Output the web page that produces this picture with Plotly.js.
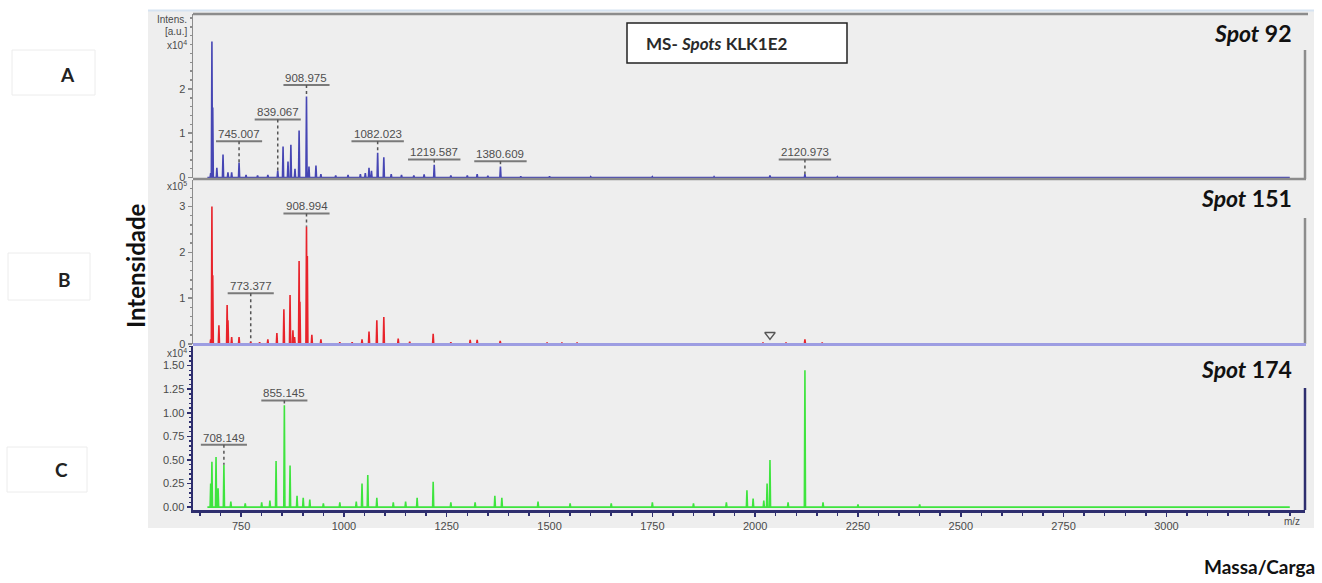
<!DOCTYPE html>
<html>
<head>
<meta charset="utf-8">
<script src="https://cdn.plot.ly/plotly-3.0.1.min.js"></script>
<style>
  html, body { margin: 0; padding: 0; background: #ffffff; }
  #chart { width: 1322px; height: 583px; }
</style>
</head>
<body>
<div id="chart"></div>
<script>
// ---- Spot 92 (intensity x10^4 a.u.) ----
const spotA_mz  = [676, 679, 681, 691, 706, 718, 727, 745.007, 762, 790, 815, 839.067, 852, 864, 871, 881, 891, 908.975, 915, 932, 944, 980, 1010, 1040, 1052, 1061, 1067, 1082.023, 1097, 1115, 1140, 1170, 1195, 1219.587, 1260, 1300, 1324, 1350, 1380.609, 1430, 1500, 1600, 1750, 1900, 2036, 2120.973, 2200];
const spotA_int = [0.10, 3.07, 1.58, 0.22, 0.52, 0.12, 0.12, 0.34, 0.06, 0.05, 0.06, 0.16, 0.70, 0.36, 0.74, 0.20, 1.06, 1.83, 0.25, 0.27, 0.08, 0.05, 0.06, 0.08, 0.10, 0.22, 0.15, 0.56, 0.46, 0.08, 0.06, 0.05, 0.07, 0.29, 0.05, 0.05, 0.08, 0.04, 0.25, 0.03, 0.03, 0.02, 0.02, 0.02, 0.05, 0.08, 0.02];
const spotA_labels  = ['745.007', '839.067', '908.975', '1082.023', '1219.587', '1380.609', '2120.973'];
const spotA_labelAt = [0.82, 1.31, 2.09, 0.82, 0.41, 0.37, 0.41];

// ---- Spot 151 (intensity x10^5 a.u.) ----
const spotB_mz  = [676, 679, 681, 696, 716, 718, 727, 745, 773.377, 795, 815, 837, 854, 869, 876, 880, 891, 893, 908.994, 911, 922, 944, 990, 1020, 1044, 1061, 1080, 1097, 1132, 1160, 1217, 1260, 1307, 1324, 1380, 1494, 1530, 1567, 2019, 2075, 2121, 2163];
const spotB_int = [0.10, 3.00, 1.50, 0.41, 0.85, 0.52, 0.15, 0.15, 0.05, 0.04, 0.10, 0.24, 0.76, 1.07, 0.30, 0.15, 1.81, 0.92, 2.56, 1.92, 0.20, 0.10, 0.04, 0.04, 0.10, 0.27, 0.52, 0.59, 0.12, 0.05, 0.22, 0.04, 0.09, 0.09, 0.07, 0.03, 0.03, 0.03, 0.03, 0.03, 0.10, 0.03];
const spotB_labels  = ['773.377', '908.994'];
const spotB_labelAt = [1.11, 2.85];
const spotB_flagMz  = [2036];
const spotB_flagInt = [0.20];

// ---- Spot 174 (intensity x10^4 a.u.) ----
const spotC_mz  = [676, 679, 689, 694, 708.149, 725, 760, 800, 820, 835, 855.145, 869, 886, 901, 917, 950, 990, 1030, 1044, 1058, 1080, 1120, 1150, 1178, 1217, 1260, 1319, 1367, 1384, 1472, 1550, 1650, 1750, 1850, 1930, 1980, 1995, 2021, 2029, 2036, 2080, 2121, 2165, 2250, 2400];
const spotC_int = [0.25, 0.48, 0.53, 0.20, 0.45, 0.06, 0.04, 0.05, 0.07, 0.49, 1.08, 0.44, 0.12, 0.10, 0.08, 0.04, 0.05, 0.06, 0.25, 0.34, 0.10, 0.05, 0.06, 0.10, 0.27, 0.05, 0.05, 0.12, 0.10, 0.06, 0.04, 0.04, 0.05, 0.04, 0.05, 0.18, 0.09, 0.07, 0.25, 0.50, 0.05, 1.45, 0.05, 0.03, 0.03];
const spotC_labels  = ['708.149', '855.145'];
const spotC_labelAt = [0.66, 1.13];

// axis ticks
const xTicks = [750, 1000, 1250, 1500, 1750, 2000, 2250, 2500, 2750, 3000];
const yTicksA = [0, 1, 2];
const yTicksB = [0, 1, 2, 3];
const yTicksC = [0, 0.25, 0.5, 0.75, 1.0, 1.25, 1.5];
const yTickTextC = ['0.00', '0.25', '0.50', '0.75', '1.00', '1.25', '1.50'];

// ---- page geometry (pixels) ----
const W = 1322, H = 583;
const L = 193, R = 17, T = 14, B = 73;
const PW = W - L - R, PH = H - T - B;
const PX = x => (x - L) / PW;
const PY = y => (T + PH - y) / PH;

const SPEC_START = 668, SPEC_END = 3300, HALF = 1.4;
const FONT = 'Liberation Sans, Arial, sans-serif';
const HEAD = 'Lato, Open Sans, sans-serif';

function stickSpectrum(mz, inten) {
  const order = mz.map((m, i) => i).sort((a, b) => mz[a] - mz[b]);
  const xs = [SPEC_START], ys = [0];
  order.forEach(i => {
    xs.push(mz[i] - HALF, mz[i], mz[i] + HALF);
    ys.push(0, inten[i], 0);
  });
  xs.push(SPEC_END); ys.push(0);
  return { xs, ys };
}

const panels = [
  { mz: spotA_mz, it: spotA_int, labels: spotA_labels, at: spotA_labelAt, yref: 'y',  color: '#4646b4' },
  { mz: spotB_mz, it: spotB_int, labels: spotB_labels, at: spotB_labelAt, yref: 'y2', color: '#e8232b' },
  { mz: spotC_mz, it: spotC_int, labels: spotC_labels, at: spotC_labelAt, yref: 'y3', color: '#3ee43e' }
];

const traces = panels.map(p => {
  const s = stickSpectrum(p.mz, p.it);
  return {
    x: s.xs, y: s.ys, type: 'scatter', mode: 'lines',
    xaxis: 'x', yaxis: p.yref,
    line: { color: p.color, width: 1.6, simplify: false },
    hoverinfo: 'skip', showlegend: false
  };
});
traces.push({
  x: spotB_flagMz, y: spotB_flagInt, type: 'scatter', mode: 'markers',
  xaxis: 'x', yaxis: 'y2',
  marker: { symbol: 'triangle-down-open', size: 9, color: '#555555', line: { width: 1.5 } },
  hoverinfo: 'skip', showlegend: false
});

const shapes = [];
const annotations = [];

// grey frame behind the plot
shapes.push({ type: 'rect', xref: 'paper', yref: 'paper', layer: 'below',
  x0: PX(148), x1: PX(1314), y0: PY(528), y1: PY(10),
  fillcolor: '#eeeeee', line: { width: 0 } });
shapes.push({ type: 'line', xref: 'paper', yref: 'paper', layer: 'below',
  x0: PX(148), x1: PX(1314), y0: PY(10.5), y1: PY(10.5),
  line: { color: '#d6e3f1', width: 2 } });

// faint boxes round the panel letters
[[12, 95, 50, 95], [8, 90, 253, 300], [7, 87, 447, 492]].forEach(b => {
  shapes.push({ type: 'rect', xref: 'paper', yref: 'paper',
    x0: PX(b[0]), x1: PX(b[1]), y0: PY(b[3]), y1: PY(b[2]),
    line: { color: '#ececec', width: 1 }, fillcolor: 'rgba(0,0,0,0)' });
});

// panel borders
const gray = '#8c8c8c';
const hl = (x0, x1, y, color, w) => shapes.push({ type: 'line', xref: 'paper', yref: 'paper',
  x0: PX(x0), x1: PX(x1), y0: PY(y), y1: PY(y), line: { color, width: w } });
const vl = (x, y0, y1, color, w) => shapes.push({ type: 'line', xref: 'paper', yref: 'paper',
  x0: PX(x), x1: PX(x), y0: PY(y0), y1: PY(y1), line: { color, width: w } });
hl(193, 1308, 14, gray, 2.5);
hl(193, 1306, 179, gray, 2.5);
vl(1305, 50, 179, gray, 2.5);
vl(1305, 218, 344, gray, 2.5);
hl(193, 1306, 344.5, '#9d9de2', 3);
vl(1305, 388, 510, '#2e2e6e', 2.5);

// title box
shapes.push({ type: 'rect', xref: 'paper', yref: 'paper',
  x0: PX(627), x1: PX(847), y0: PY(63), y1: PY(23),
  fillcolor: '#ffffff', line: { color: '#222222', width: 1.5 } });
annotations.push({ xref: 'paper', yref: 'paper', x: PX(644), y: PY(43),
  xanchor: 'left', yanchor: 'middle', showarrow: false,
  text: '<b>MS- <i>Spots</i> KLK1E2</b>', font: { family: HEAD, size: 17, color: '#2a2a2a' } });

// peak labels: value text, underline and dotted leader down to the peak
panels.forEach(p => {
  p.labels.forEach((lab, k) => {
    const m = parseFloat(lab);
    const h = p.it[p.mz.indexOf(m)];
    const top = p.at[k];
    const w = lab.length * 6.3 + 2;
    annotations.push({ xref: 'x', yref: p.yref, x: m, y: top, xanchor: 'center', yanchor: 'bottom',
      showarrow: false, text: lab, yshift: -1,
      font: { family: FONT, size: 11.5, color: '#4e4e4e' } });
    shapes.push({ type: 'line', xref: 'x', yref: p.yref, xsizemode: 'pixel', xanchor: m,
      x0: -w / 2, x1: w / 2, y0: top, y1: top, line: { color: '#7a7a7a', width: 2 } });
    shapes.push({ type: 'line', xref: 'x', yref: p.yref, x0: m, x1: m, y0: top, y1: h,
      line: { color: '#555555', width: 1.5, dash: 'dot' } });
  });
});

// intensity headers on the y axes
const small = { family: FONT, size: 10, color: '#4a4a4a' };
[['Intens.', 19], ['[a.u.]', 32], ['x10<sup>4</sup>', 45], ['x10<sup>5</sup>', 186], ['x10<sup>4</sup>', 353]].forEach(t => {
  annotations.push({ xref: 'paper', yref: 'paper', x: PX(189), y: PY(t[1]), xanchor: 'right', yanchor: 'middle',
    showarrow: false, text: t[0], font: small });
});
annotations.push({ xref: 'paper', yref: 'paper', x: PX(1292), y: PY(521), xanchor: 'center', yanchor: 'middle',
  showarrow: false, text: 'm/z', font: small });

// spot names
[['<b><i>Spot</i> 92</b>', 33], ['<b><i>Spot</i> 151</b>', 198], ['<b><i>Spot</i> 174</b>', 369]].forEach(t => {
  annotations.push({ xref: 'paper', yref: 'paper', x: PX(1294), y: PY(t[1]), xanchor: 'right', yanchor: 'middle',
    showarrow: false, text: t[0], font: { family: HEAD, size: 23, color: '#111111' } });
});

// panel letters and axis titles
[['A', 67, 74], ['B', 64, 279], ['C', 61, 469]].forEach(t => {
  annotations.push({ xref: 'paper', yref: 'paper', x: PX(t[1]), y: PY(t[2]), xanchor: 'center', yanchor: 'middle',
    showarrow: false, text: '<b>' + t[0] + '</b>', font: { family: HEAD, size: 19, color: '#222222' } });
});
annotations.push({ xref: 'paper', yref: 'paper', x: PX(135), y: PY(266), xanchor: 'center', yanchor: 'middle',
  showarrow: false, textangle: -90, text: '<b>Intensidade</b>', font: { family: HEAD, size: 24, color: '#111111' } });
annotations.push({ xref: 'paper', yref: 'paper', x: PX(1259), y: PY(566), xanchor: 'center', yanchor: 'middle',
  showarrow: false, text: '<b>Massa/Carga</b>', font: { family: HEAD, size: 19, color: '#111111' } });

const yBase = {
  anchor: 'x', showgrid: false, zeroline: false, fixedrange: true,
  ticks: 'outside', ticklen: 4, tickwidth: 1.5, tickcolor: gray,
  showline: true, linecolor: gray, linewidth: 1.5,
  tickfont: { family: FONT, size: 11, color: '#4a4a4a' }
};

const layout = {
  width: W, height: H,
  margin: { l: L, r: R, t: T, b: B, pad: 0 },
  paper_bgcolor: '#ffffff', plot_bgcolor: '#ffffff',
  showlegend: false,
  xaxis: {
    anchor: 'y3', range: [633, 3337], showgrid: false, zeroline: false, fixedrange: true,
    tickvals: xTicks, ticks: 'outside', ticklen: 4, tickwidth: 1.5, tickcolor: '#2e2e6e',
    minor: { dtick: 50, tick0: 0, ticks: 'outside', ticklen: 3, tickcolor: '#2e2e6e', showgrid: false },
    showline: true, linecolor: '#2e2e6e', linewidth: 2.5,
    tickfont: { family: FONT, size: 11, color: '#4a4a4a' }
  },
  yaxis: Object.assign({}, yBase, {
    domain: [PY(178), 1], range: [-0.01, 3.69], tickvals: yTicksA,
    minor: { dtick: 0.2, ticks: 'outside', ticklen: 2, tickcolor: gray, showgrid: false }
  }),
  yaxis2: Object.assign({}, yBase, {
    domain: [PY(344), PY(180)], range: [0, 3.58], tickvals: yTicksB,
    minor: { dtick: 0.2, ticks: 'outside', ticklen: 2, tickcolor: gray, showgrid: false }
  }),
  yaxis3: Object.assign({}, yBase, {
    domain: [0, PY(346)], range: [-0.03, 1.707], tickvals: yTicksC, ticktext: yTickTextC,
    linecolor: '#2e2e6e', linewidth: 2.5, tickcolor: '#2e2e6e',
    minor: { dtick: 0.05, ticks: 'outside', ticklen: 2, tickcolor: '#2e2e6e', showgrid: false }
  }),
  shapes: shapes,
  annotations: annotations
};

Plotly.newPlot('chart', traces, layout, { staticPlot: true, displayModeBar: false });
</script>
</body>
</html>
